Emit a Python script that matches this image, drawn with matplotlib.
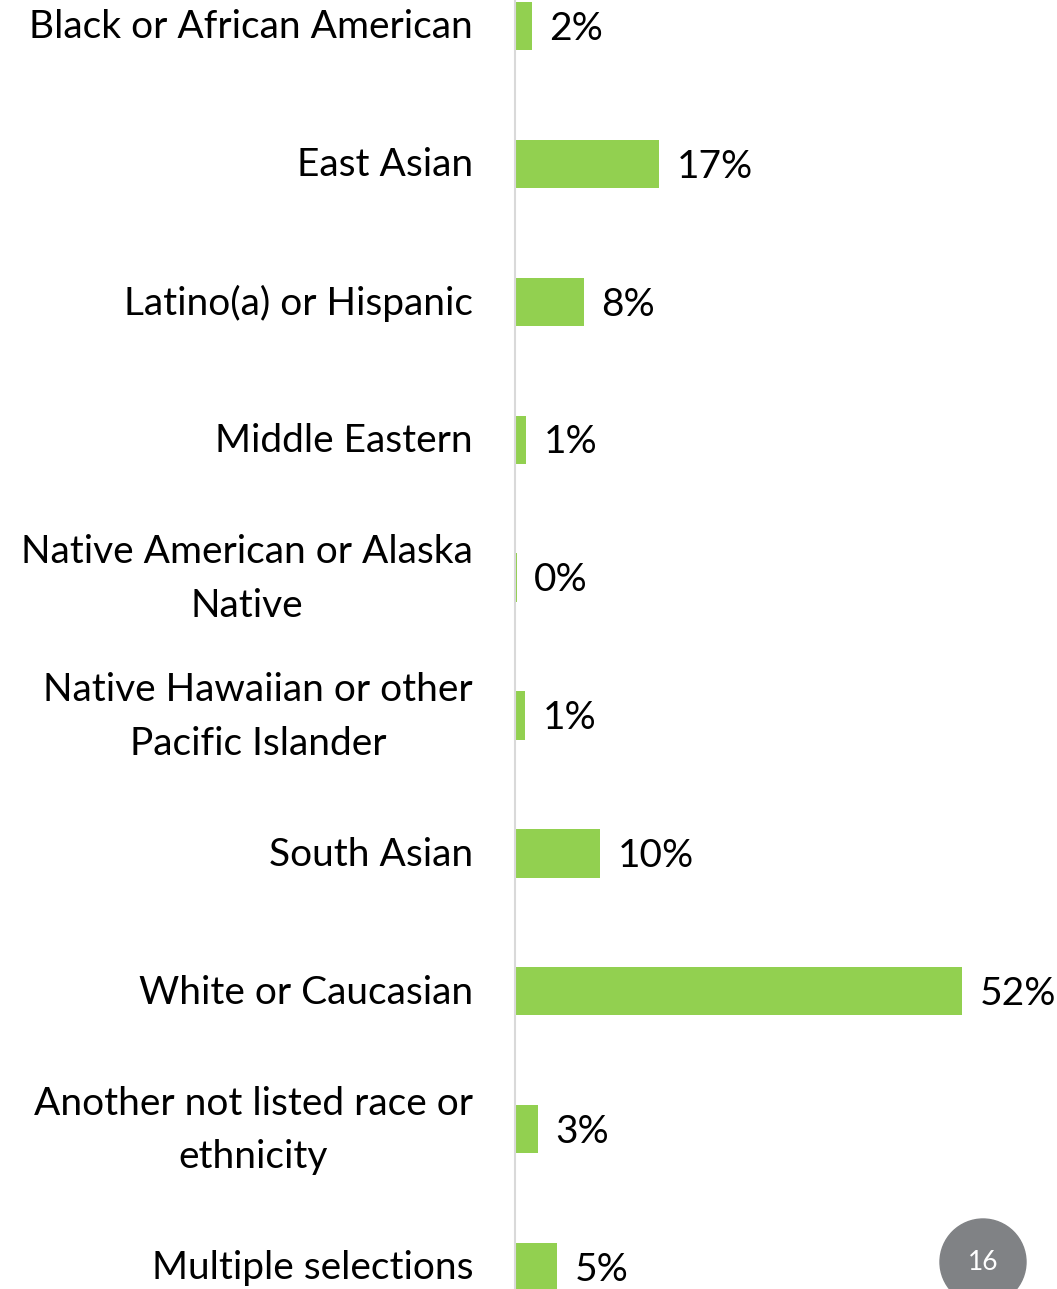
import matplotlib
matplotlib.use('Agg')
import matplotlib.pyplot as plt
from matplotlib.patches import Ellipse

categories = [
    'Black or African American',
    'East Asian',
    'Latino(a) or Hispanic',
    'Middle Eastern',
    'Native American or Alaska\nNative',
    'Native Hawaiian or other\nPacific Islander',
    'South Asian',
    'White or Caucasian',
    'Another not listed race or\nethnicity',
    'Multiple selections',
]
values = [2.0, 16.8, 8.0, 1.3, 0.2, 1.2, 9.9, 52.0, 2.7, 4.9]
value_labels = ['2%', '17%', '8%', '1%', '0%', '1%', '10%', '52%', '3%', '5%']
page_number = '16'

BAR_COLOR = '#92D050'
FONT = 'Lato'
FS = 28

W, H = 1057, 1289
fig = plt.figure(figsize=(W / 100, H / 100), dpi=100)

# axes spans from the vertical axis line to the right edge
ax_left = 515 / W
ax = fig.add_axes([ax_left, 0, 1 - ax_left, 1])

step = 137.9
top = -26 / step
bottom = (H - 26) / step
ax.set_ylim(bottom, top)
ax.set_xlim(0, (W - 515) / 8.6)

ypos = list(range(len(categories)))
ax.barh(ypos, values, height=0.35, color=BAR_COLOR, left=0)

for y, v, lab in zip(ypos, values, value_labels):
    ax.text(v + 2.0, y + 0.02, lab, va='center', ha='left', fontsize=FS,
            family=FONT, color='#000000', clip_on=False)

for y, cat in zip(ypos, categories):
    ax.text(-42 / 8.6, y + 0.01, cat, va='center', ha='right', multialignment='center',
            fontsize=FS, family=FONT, color='#000000', linespacing=1.6,
            clip_on=False)

for s in ['top', 'right', 'bottom']:
    ax.spines[s].set_visible(False)
ax.spines['left'].set_color('#d9d9d9')
ax.spines['left'].set_linewidth(1.5)
ax.set_xticks([])
ax.set_yticks([])
ax.patch.set_alpha(0)

# page number badge
cx, cy, r = 983, 1262, 43
badge = Ellipse((cx / W, 1 - cy / H), 2 * r / W, 2 * r / H,
                transform=fig.transFigure, color='#808285', zorder=5)
fig.patches.append(badge)
fig.text(cx / W, 1 - cy / H, page_number, ha='center', va='center',
         fontsize=19, family=FONT, color='white', zorder=6)

fig.savefig('out.png', dpi=100)
